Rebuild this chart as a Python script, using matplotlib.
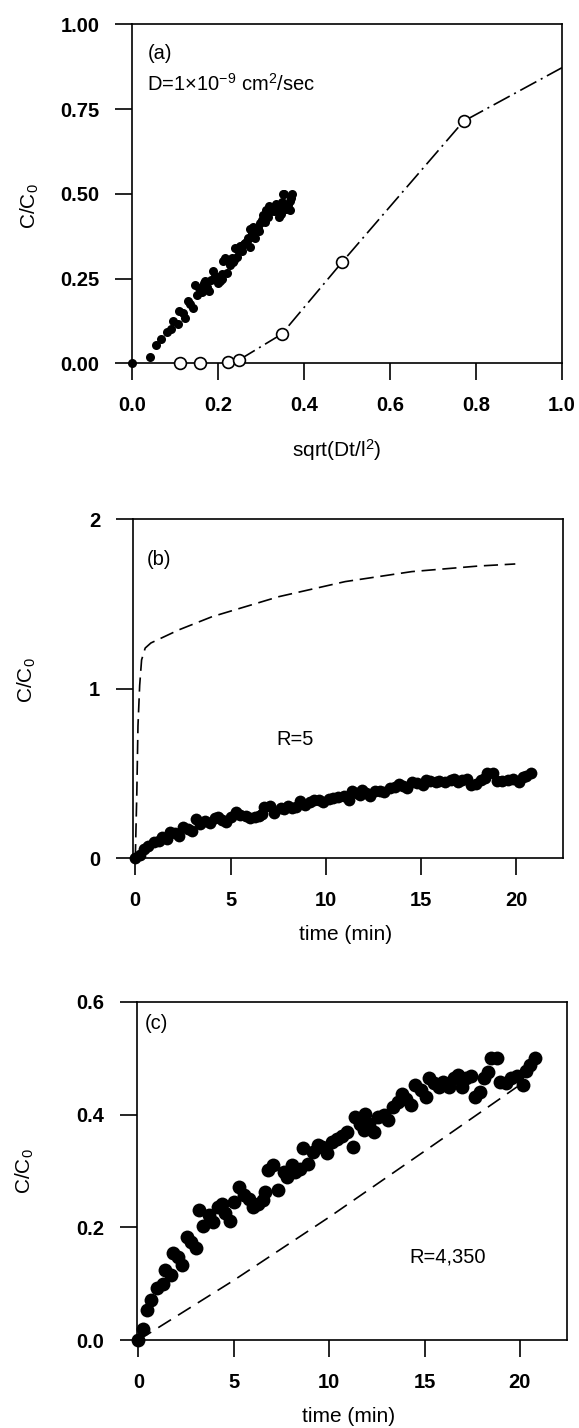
import numpy as np
import matplotlib
matplotlib.use("Agg")
import matplotlib.pyplot as plt
from matplotlib.ticker import FormatStrFormatter

plt.rcParams['font.family'] = ['Liberation Sans', 'DejaVu Sans']
plt.rcParams['mathtext.fontset'] = 'custom'
plt.rcParams['mathtext.rm'] = 'Liberation Sans'
plt.rcParams['mathtext.it'] = 'Liberation Sans:italic'

# measured permeation data (same run in all three panels)
time_min = [0, 0.25, 0.45, 0.68, 0.97, 1.26, 1.39, 1.68, 1.80, 2.07,
            2.28, 2.52, 2.77, 3.00, 3.19, 3.39, 3.68, 3.93, 4.16, 4.36,
            4.55, 4.78, 5.03, 5.29, 5.52, 5.81, 6.00, 6.29, 6.52, 6.64,
            6.78, 7.07, 7.30, 7.65, 7.80, 8.03, 8.23, 8.46, 8.65, 8.90,
            9.16, 9.39, 9.62, 9.87, 10.16, 10.40, 10.65, 10.94, 11.23, 11.36,
            11.62, 11.81, 11.90, 12.10, 12.33, 12.58, 12.87, 13.07, 13.36, 13.61,
            13.84, 14.04, 14.27, 14.52, 14.81, 15.10, 15.24, 15.49, 15.78, 15.97,
            16.26, 16.55, 16.75, 16.94, 17.17, 17.42, 17.62, 17.91, 18.14, 18.34,
            18.49, 18.78, 18.97, 19.26, 19.55, 19.84, 20.14, 20.33, 20.52, 20.77]
c_ratio = [0.000, 0.019, 0.053, 0.071, 0.093, 0.100, 0.124, 0.115, 0.154, 0.148,
           0.133, 0.183, 0.174, 0.163, 0.231, 0.202, 0.222, 0.210, 0.236, 0.242,
           0.225, 0.212, 0.245, 0.272, 0.257, 0.251, 0.236, 0.242, 0.248, 0.263,
           0.301, 0.310, 0.266, 0.298, 0.290, 0.310, 0.298, 0.304, 0.340, 0.313,
           0.334, 0.346, 0.343, 0.331, 0.352, 0.356, 0.361, 0.369, 0.343, 0.396,
           0.384, 0.372, 0.401, 0.384, 0.369, 0.396, 0.399, 0.390, 0.414, 0.423,
           0.437, 0.428, 0.417, 0.452, 0.443, 0.431, 0.464, 0.455, 0.448, 0.458,
           0.449, 0.464, 0.470, 0.448, 0.464, 0.468, 0.431, 0.440, 0.464, 0.476,
           0.500, 0.500, 0.458, 0.456, 0.464, 0.468, 0.452, 0.478, 0.488, 0.500]

# panel (a): x axis is sqrt(Dt/l^2)
D_cm2_s = 1e-9
thickness_cm = 3.0e-3
sqrt_dt = np.sqrt(D_cm2_s * np.array(time_min) * 60) / thickness_cm

model_a_x = [0.112, 0.157, 0.223, 0.249, 0.348, 0.489, 0.771]
model_a_y = [0.000, 0.000, 0.005, 0.010, 0.086, 0.299, 0.714]
line_a_x = [0.249, 0.348, 0.489, 0.771, 1.0]
line_a_y = [0.010, 0.086, 0.299, 0.714, 0.872]

# panel (b): model curve R=5
model_b_t = [0.0, 0.08, 0.14, 0.23, 0.33, 0.52, 0.82, 2.28, 4.03, 5.78, 7.53, 11.02, 14.52, 18.03, 19.95]
model_b_c = [0.0, 0.385, 0.78, 1.02, 1.17, 1.24, 1.27, 1.347, 1.425, 1.484, 1.543, 1.632, 1.691, 1.724, 1.736]

# panel (c): model curve R=4,350
model_c_t = [0.0, 5.0, 10.0, 15.0, 19.85]
model_c_c = [0.0, 0.106, 0.218, 0.335, 0.449]

fig = plt.figure(figsize=(5.79, 14.28), dpi=100)
ax_a = fig.add_axes([0.2280, 0.7456, 0.7427, 0.2374])
ax_b = fig.add_axes([0.2292, 0.3990, 0.7427, 0.2374])
ax_c = fig.add_axes([0.2359, 0.0616, 0.7427, 0.2369])

for ax in (ax_a, ax_b, ax_c):
    for s in ax.spines.values():
        s.set_linewidth(1.2)
    ax.tick_params(direction='out', length=12.5, width=1.2, pad=11, labelsize=14.5)
    for lab in ax.get_xticklabels() + ax.get_yticklabels():
        lab.set_fontweight('bold')

lbl = dict(fontsize=15)
txt = dict(fontsize=14.5, va='center')

# (a)
ax_a.plot(line_a_x, line_a_y, color='black', lw=1.2, dashes=(11, 3, 1.2, 3), zorder=2)
ax_a.plot(model_a_x, model_a_y, 'o', ms=8.5, mfc='white', mec='black', mew=1.2,
          clip_on=False, zorder=3)
ax_a.plot(sqrt_dt, c_ratio, 'o', ms=6.5, color='black', mew=0, clip_on=False, zorder=4)
ax_a.set_xlim(0, 1.0)
ax_a.set_ylim(0, 1.0)
ax_a.set_xticks([0.0, 0.2, 0.4, 0.6, 0.8, 1.0])
ax_a.set_yticks([0.0, 0.25, 0.5, 0.75, 1.0])
ax_a.xaxis.set_major_formatter(FormatStrFormatter('%.1f'))
ax_a.yaxis.set_major_formatter(FormatStrFormatter('%.2f'))
ax_a.set_xlabel('sqrt(Dt/l$^2$)', **lbl)
ax_a.xaxis.set_label_coords(0.476, -0.217)
ax_a.set_ylabel('C/C$_0$', **lbl)
ax_a.yaxis.set_label_coords(-0.212, 0.465)
ax_a.text(0.037, 0.915, '(a)', transform=ax_a.transAxes, **txt)
ax_a.text(0.035, 0.823, r'D=1$\times$10$^{-9}$ cm$^2$/sec', transform=ax_a.transAxes, **txt)

# (b)
ax_b.plot(model_b_t, model_b_c, color='black', lw=1.2, dashes=(8.5, 4), zorder=2)
ax_b.plot(time_min, c_ratio, 'o', ms=8.5, color='black', mew=0, clip_on=False, zorder=3)
ax_b.set_xlim(-0.136, 22.44)
ax_b.set_ylim(0, 2)
ax_b.set_xticks([0, 5, 10, 15, 20])
ax_b.set_yticks([0, 1, 2])
ax_b.set_xlabel('time (min)', **lbl)
ax_b.xaxis.set_label_coords(0.494, -0.197)
ax_b.set_ylabel('C/C$_0$', **lbl)
ax_b.yaxis.set_label_coords(-0.22, 0.526)
ax_b.text(0.033, 0.88, '(b)', transform=ax_b.transAxes, **txt)
ax_b.text(0.378, 0.349, 'R=5', transform=ax_b.transAxes, ha='center', **txt)

# (c)
ax_c.plot(model_c_t, model_c_c, color='black', lw=1.2, dashes=(9, 5), zorder=2)
ax_c.plot(time_min, c_ratio, 'o', ms=10, color='black', mew=0, clip_on=False, zorder=3)
ax_c.set_xlim(-0.10, 22.45)
ax_c.set_ylim(0, 0.6)
ax_c.set_xticks([0, 5, 10, 15, 20])
ax_c.set_yticks([0.0, 0.2, 0.4, 0.6])
ax_c.yaxis.set_major_formatter(FormatStrFormatter('%.1f'))
ax_c.set_xlabel('time (min)', **lbl)
ax_c.xaxis.set_label_coords(0.494, -0.197)
ax_c.set_ylabel('C/C$_0$', **lbl)
ax_c.yaxis.set_label_coords(-0.234, 0.5)
ax_c.text(0.0195, 0.936, '(c)', transform=ax_c.transAxes, **txt)
ax_c.text(0.723, 0.246, 'R=4,350', transform=ax_c.transAxes, ha='center', **txt)

for ax in (ax_a, ax_b, ax_c):
    for lab in ax.get_xticklabels() + ax.get_yticklabels():
        lab.set_fontweight('bold')

fig.savefig('out.png', dpi=100)
